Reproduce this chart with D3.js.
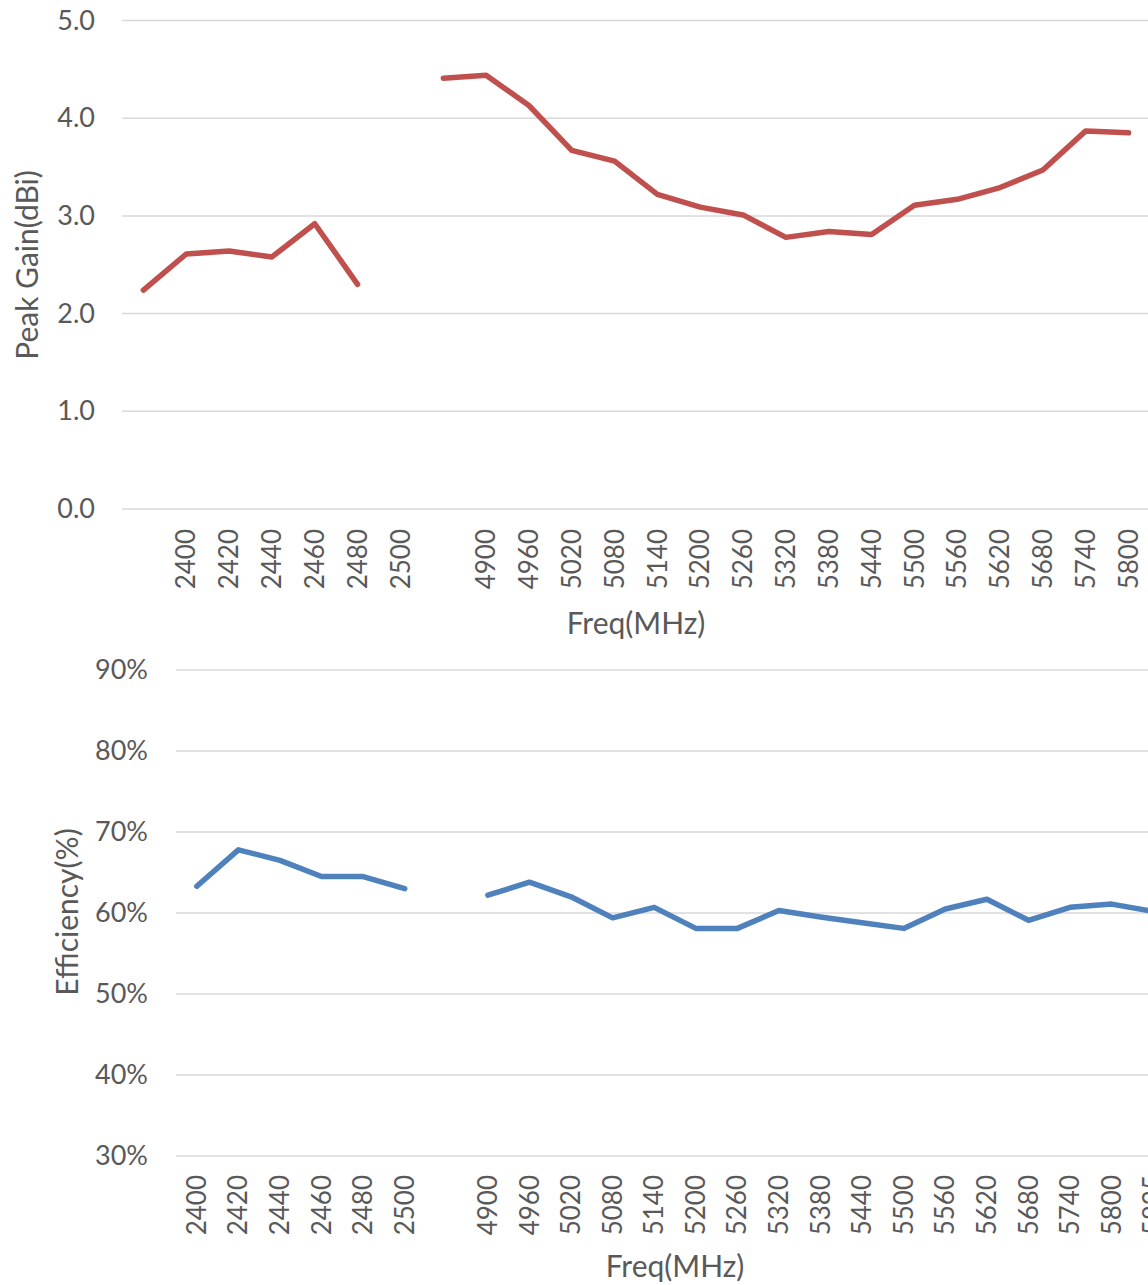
<!DOCTYPE html>
<html><head><meta charset="utf-8">
<script src="https://cdn.jsdelivr.net/npm/d3@7"></script>
<style>html,body{margin:0;padding:0;background:#fff;overflow:hidden}svg{display:block}</style>
</head><body>
<script>
// ---- data ----
const gainCategories = ["", "2400","2420","2440","2460","2480","2500","", "4900","4960","5020","5080","5140","5200","5260","5320","5380","5440","5500","5560","5620","5680","5740","5800"];
const gainValues = [2.24, 2.61, 2.64, 2.58, 2.92, 2.30, null, 4.41, 4.44, 4.13, 3.67, 3.56, 3.22, 3.09, 3.01, 2.78, 2.84, 2.81, 3.11, 3.17, 3.29, 3.47, 3.87, 3.85];
const gainTicks = [0, 1, 2, 3, 4, 5];

const effCategories = ["2400","2420","2440","2460","2480","2500","", "4900","4960","5020","5080","5140","5200","5260","5320","5380","5440","5500","5560","5620","5680","5740","5800","5825"];
const effValues = [63.3, 67.8, 66.5, 64.5, 64.5, 63.0, null, 62.2, 63.8, 62.0, 59.4, 60.7, 58.1, 58.1, 60.3, 59.5, 58.8, 58.1, 60.5, 61.7, 59.1, 60.7, 61.1, 60.2];
const effTicks = [30, 40, 50, 60, 70, 80, 90];

const W = 1148, H = 1285;
const FONT = "Lato, 'Open Sans', sans-serif";
const TXT = "#595959", GRID = "#d9d9d9";

const svg = d3.select("body").append("svg").attr("width", W).attr("height", H)
  .style("font-family", FONT);

function panel(opts) {
  const g = svg.append("g");
  const x = d3.scaleBand().domain(d3.range(opts.cats.length)).range([opts.left, opts.right]).paddingInner(0).paddingOuter(0);
  const y = d3.scaleLinear().domain(opts.domain).range([opts.bottom, opts.top]);
  // gridlines
  g.append("g").selectAll("line").data(opts.ticks).join("line")
    .attr("x1", opts.left).attr("x2", W)
    .attr("y1", d => y(d)).attr("y2", d => y(d))
    .attr("stroke", GRID).attr("stroke-width", 1.5);
  // y axis labels
  const ya = d3.axisLeft(y).tickValues(opts.ticks).tickFormat(opts.yfmt).tickSize(0).tickPadding(0);
  const yg = g.append("g").attr("transform", `translate(${opts.ylabX},0)`).call(ya);
  yg.select(".domain").remove();
  yg.selectAll("text").attr("fill", TXT).style("font-size", opts.yfs + "px").style("font-family", FONT);
  // x axis labels
  const xa = d3.axisBottom(x).tickFormat(i => opts.cats[i]).tickSize(0).tickPadding(0);
  const xg = g.append("g").attr("transform", `translate(0,${opts.xlabY})`).call(xa);
  xg.select(".domain").remove();
  xg.selectAll("text").attr("fill", TXT).style("font-size", opts.fs + "px").style("font-family", FONT)
    .attr("transform", "rotate(-90)").attr("x", 0).attr("y", 0).attr("dy", "0.35em")
    .attr("text-anchor", "end");
  // line
  const line = d3.line().defined(d => d != null)
    .x((d, i) => x(i) + x.bandwidth() / 2).y(d => y(d));
  g.append("path").datum(opts.values).attr("d", line)
    .attr("fill", "none").attr("stroke", opts.color).attr("stroke-width", 5.5)
    .attr("stroke-linecap", "round").attr("stroke-linejoin", "round");
  // titles
  g.append("text").attr("x", (opts.left + opts.right) / 2).attr("y", opts.xTitleY)
    .attr("text-anchor", "middle").attr("fill", TXT).style("font-size", opts.tfs + "px").text("Freq(MHz)");
  g.append("text").attr("transform", `translate(${opts.yTitleX},${opts.yTitleY}) rotate(-90)`)
    .attr("text-anchor", "middle").attr("dy", "0.35em").attr("fill", TXT).style("font-size", opts.tfs + "px").text(opts.yTitle);
}

panel({
  cats: gainCategories, values: gainValues, ticks: gainTicks, domain: [0, 5],
  left: 122, right: 1150, top: 20.5, bottom: 509,
  yfmt: d3.format(".1f"), ylabX: 95, xlabY: 529, fs: 26, yfs: 27, tfs: 30,
  color: "#c0504d", xTitleY: 634, yTitleX: 27, yTitleY: 265, yTitle: "Peak Gain(dBi)"
});

panel({
  cats: effCategories, values: effValues, ticks: effTicks, domain: [30, 90],
  left: 176, right: 1174, top: 670, bottom: 1156,
  yfmt: d => d + "%", ylabX: 148, xlabY: 1175, fs: 26, yfs: 27, tfs: 30,
  color: "#4f81bd", xTitleY: 1277, yTitleX: 67, yTitleY: 912, yTitle: "Efficiency(%)"
});
</script>
</body></html>
